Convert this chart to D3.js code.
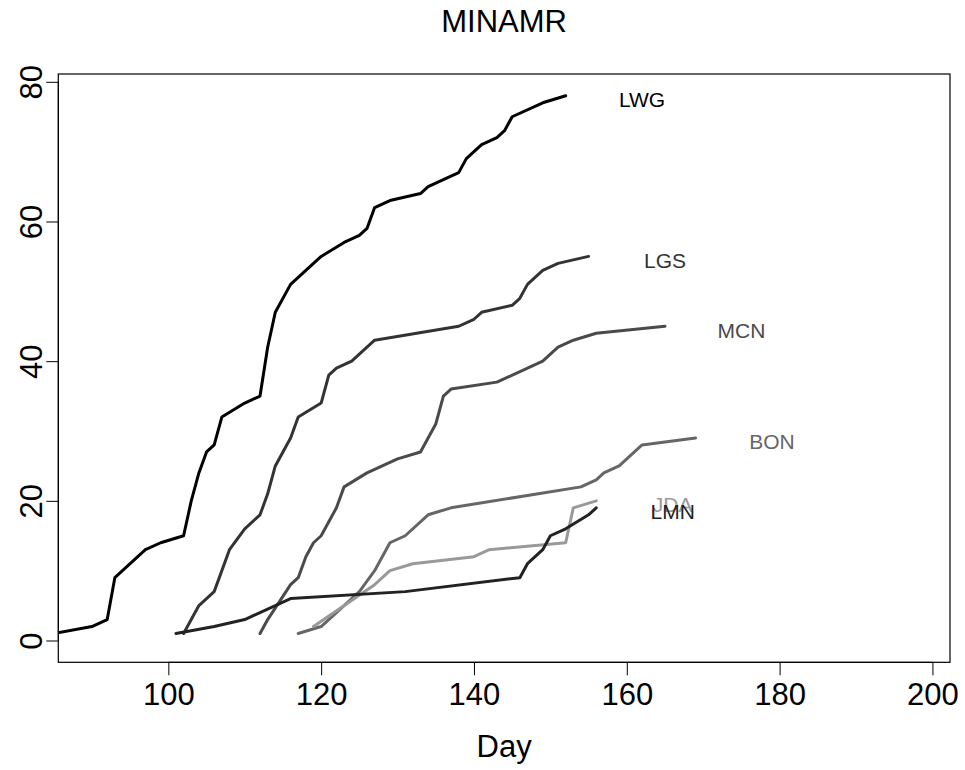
<!DOCTYPE html>
<html>
<head>
<meta charset="utf-8">
<script src="https://cdn.jsdelivr.net/npm/d3@7"></script>
<style>
  body { margin: 0; background: #fff; }
  text { font-family: "Liberation Sans", Arial, Helvetica, sans-serif; }
</style>
</head>
<body>
<svg id="chart" width="965" height="770"></svg>
<script>
// ---- data ----
const seriesNames = ["LWG", "LGS", "MCN", "BON", "JDA", "LMN"];
const seriesColors = ["#000000", "#333333", "#4a4a4a", "#666666", "#999999", "#222222"];

const LWG_day = [85, 90, 92, 93, 97, 99, 102, 103, 104, 105, 106, 107, 110, 112, 113, 114, 116, 119, 120, 123, 125, 126, 127, 129, 133, 134, 138, 139, 141, 143, 144, 145, 149, 152];
const LWG_val = [1, 2, 3, 9, 13, 14, 15, 20, 24, 27, 28, 32, 34, 35, 42, 47, 51, 54, 55, 57, 58, 59, 62, 63, 64, 65, 67, 69, 71, 72, 73, 75, 77, 78];

const LGS_day = [102, 104, 106, 108, 110, 112, 113, 114, 116, 117, 120, 121, 122, 124, 127, 138, 140, 141, 145, 146, 147, 149, 151, 155];
const LGS_val = [1, 5, 7, 13, 16, 18, 21, 25, 29, 32, 34, 38, 39, 40, 43, 45, 46, 47, 48, 49, 51, 53, 54, 55];

const MCN_day = [112, 113, 116, 117, 118, 119, 120, 121, 122, 123, 126, 128, 130, 133, 135, 136, 137, 143, 149, 151, 153, 156, 165];
const MCN_val = [1, 3, 8, 9, 12, 14, 15, 17, 19, 22, 24, 25, 26, 27, 31, 35, 36, 37, 40, 42, 43, 44, 45];

const BON_day = [117, 120, 125, 127, 129, 131, 134, 137, 154, 156, 157, 159, 162, 169];
const BON_val = [1, 2, 7, 10, 14, 15, 18, 19, 22, 23, 24, 25, 28, 29];

const JDA_day = [119, 127, 129, 132, 140, 142, 152, 153, 156];
const JDA_val = [2, 8, 10, 11, 12, 13, 14, 19, 20];

const LMN_day = [101, 106, 110, 116, 131, 146, 147, 149, 150, 152, 155, 156];
const LMN_val = [1, 2, 3, 6, 7, 9, 11, 13, 15, 16, 18, 19];

const xTicks = [100, 120, 140, 160, 180, 200];
const yTicks = [0, 20, 40, 60, 80];
const titleText = "MINAMR";
const xLabel = "Day";

const seriesDays = [LWG_day, LGS_day, MCN_day, BON_day, JDA_day, LMN_day];
const seriesVals = [LWG_val, LGS_val, MCN_val, BON_val, JDA_val, LMN_val];

// ---- layout ----
const L = 58.3, R = 950, T = 74, B = 662.3;
const svg = d3.select("#chart");

const x = d3.scaleLinear().domain([85.6, 202.3]).range([L, R]);
const y = d3.scaleLinear().domain([-3.12, 81.12]).range([B, T]);

svg.append("defs").append("clipPath").attr("id", "plotclip")
  .append("rect").attr("x", L).attr("y", T).attr("width", R - L).attr("height", B - T);

// lines
const line = d3.line().x(d => x(d[0])).y(d => y(d[1]));
const g = svg.append("g").attr("clip-path", "url(#plotclip)");
seriesNames.forEach((name, i) => {
  const pts = seriesDays[i].map((d, k) => [d, seriesVals[i][k]]);
  g.append("path")
    .attr("d", line(pts))
    .attr("fill", "none")
    .attr("stroke", seriesColors[i])
    .attr("stroke-width", 3)
    .attr("stroke-linejoin", "round")
    .attr("stroke-linecap", "round");
});

// series labels at (last day + 10, last value)
seriesNames.forEach((name, i) => {
  const days = seriesDays[i], vals = seriesVals[i];
  const n = days.length;
  svg.append("text")
    .attr("x", x(days[n - 1] + 10))
    .attr("y", y(vals[n - 1]) + 11.5)
    .attr("text-anchor", "middle")
    .attr("font-size", 21)
    .attr("fill", seriesColors[i])
    .text(name);
});

// box
svg.append("rect")
  .attr("x", L).attr("y", T).attr("width", R - L).attr("height", B - T)
  .attr("fill", "none").attr("stroke", "#000").attr("stroke-width", 1.2);

// x axis
const xAxis = d3.axisBottom(x).tickValues(xTicks).tickSize(13).tickPadding(8).tickFormat(d3.format("d"));
const gx = svg.append("g").attr("transform", `translate(0,${B})`).call(xAxis);
gx.select(".domain").attr("d", `M${x(xTicks[0])},0H${x(xTicks[xTicks.length - 1])}`);
gx.selectAll("text").attr("font-size", 31).attr("font-family", "Liberation Sans, Arial, sans-serif").attr("fill", "#000");
gx.selectAll("line").attr("stroke", "#000");

// y axis
const yAxis = d3.axisLeft(y).tickValues(yTicks).tickSize(12).tickFormat(d3.format("d"));
const gy = svg.append("g").attr("transform", `translate(${L},0)`).call(yAxis);
gy.select(".domain").attr("d", `M0,${y(yTicks[0])}V${y(yTicks[yTicks.length - 1])}`);
gy.selectAll("line").attr("stroke", "#000");
gy.selectAll("text")
  .attr("x", null).attr("dy", null)
  .attr("text-anchor", "middle")
  .attr("font-size", 31)
  .attr("font-family", "Liberation Sans, Arial, sans-serif")
  .attr("fill", "#000")
  .attr("transform", `translate(${42 - L},0) rotate(-90)`);

// title
svg.append("text")
  .attr("x", (L + R) / 2).attr("y", 31.7)
  .attr("text-anchor", "middle")
  .attr("font-size", 31)
  .attr("fill", "#000")
  .text(titleText);

// x label
svg.append("text")
  .attr("x", (L + R) / 2).attr("y", 757)
  .attr("text-anchor", "middle")
  .attr("font-size", 31)
  .attr("fill", "#000")
  .text(xLabel);
</script>
</body>
</html>
